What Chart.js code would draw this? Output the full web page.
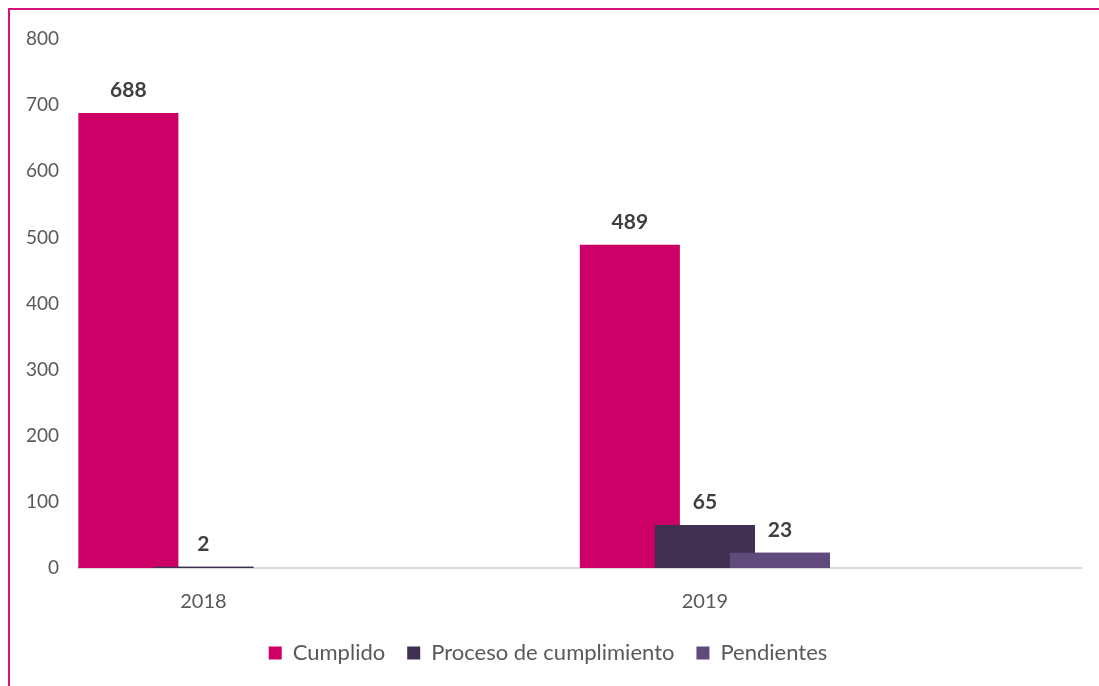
<!DOCTYPE html>
<html>
<head>
<meta charset="utf-8">
<script src="https://cdn.jsdelivr.net/npm/chart.js@4.4.1/dist/chart.umd.min.js"></script>
<style>
  html, body { margin: 0; padding: 0; background: #fff; overflow: hidden; }
  #frame { position: absolute; left: 8px; top: 8px; width: 1200px; height: 800px;
           border-top: 2px solid #D6137A; border-left: 2px solid #D6137A; }
  #wrap { position: absolute; left: 0; top: 0; width: 1099px; height: 686px; }
</style>
</head>
<body>
<div id="frame"></div>
<div id="wrap"><canvas id="grafico"></canvas></div>
<script>
// datos
const anios = ['2018', '2019'];
const cumplido = [688, 489];
const proceso = [2, 65];
const pendientes = [0, 23];
const ticksY = [0, 100, 200, 300, 400, 500, 600, 700, 800];

const fuente = 'Lato, "Open Sans", sans-serif';
const puntos = arr => arr.map((v, i) => ({ x: i, y: v }));

// las series se solapan: la última queda encima, y se ponen las etiquetas
const solapeYEtiquetas = {
  id: 'solapeYEtiquetas',
  afterDatasetsDraw(chart) {
    const ctx = chart.ctx;
    ctx.save();
    ctx.beginPath();
    ctx.rect(chart.chartArea.left, chart.chartArea.top, chart.chartArea.width, chart.chartArea.height);
    ctx.clip();
    for (let d = 1; d < chart.data.datasets.length; d++) {
      chart.getDatasetMeta(d).controller.draw();
    }
    ctx.restore();

    ctx.save();
    ctx.font = 'bold 21px ' + fuente;
    ctx.fillStyle = '#404040';
    ctx.textAlign = 'center';
    ctx.textBaseline = 'alphabetic';
    chart.data.datasets.forEach((ds, d) => {
      chart.getDatasetMeta(d).data.forEach((bar, i) => {
        const v = ds.data[i].y;
        if (!v) return;
        ctx.fillText(String(v), bar.x, bar.y - 16);
      });
    });
    ctx.restore();
  }
};

new Chart(document.getElementById('grafico'), {
  type: 'bar',
  data: {
    datasets: [
      { label: 'Cumplido', data: puntos(cumplido), backgroundColor: '#CC0066' },
      { label: 'Proceso de cumplimiento', data: puntos(proceso), backgroundColor: '#403152' },
      { label: 'Pendientes', data: puntos(pendientes), backgroundColor: '#604A7B' }
    ]
  },
  options: {
    responsive: true,
    maintainAspectRatio: false,
    animation: false,
    categoryPercentage: 0.449,
    barPercentage: 1.333,
    layout: { padding: { left: 15, right: 18, top: 39, bottom: 12 } },
    plugins: {
      legend: {
        position: 'bottom',
        labels: {
          boxWidth: 13,
          boxHeight: 13,
          padding: 22,
          color: '#595959',
          font: { family: fuente, size: 22 }
        }
      },
      tooltip: { enabled: false }
    },
    scales: {
      x: {
        type: 'linear',
        offset: false,
        min: -0.25,
        max: 1.75,
        afterBuildTicks: s => { s.ticks = anios.map((a, i) => ({ value: i })); },
        afterFit: s => { s.height = 52; },
        grid: { display: false },
        border: { display: true, color: '#D9D9D9', width: 2 },
        ticks: {
          color: '#595959',
          padding: 14,
          font: { family: fuente, size: 20 },
          callback: v => anios[v]
        }
      },
      y: {
        min: 0,
        max: 800,
        afterBuildTicks: s => { s.ticks = ticksY.map(v => ({ value: v })); },
        grid: { display: false },
        border: { display: false },
        ticks: {
          color: '#595959',
          padding: 11,
          font: { family: fuente, size: 19 }
        }
      }
    }
  },
  plugins: [solapeYEtiquetas]
});
</script>
</body>
</html>
